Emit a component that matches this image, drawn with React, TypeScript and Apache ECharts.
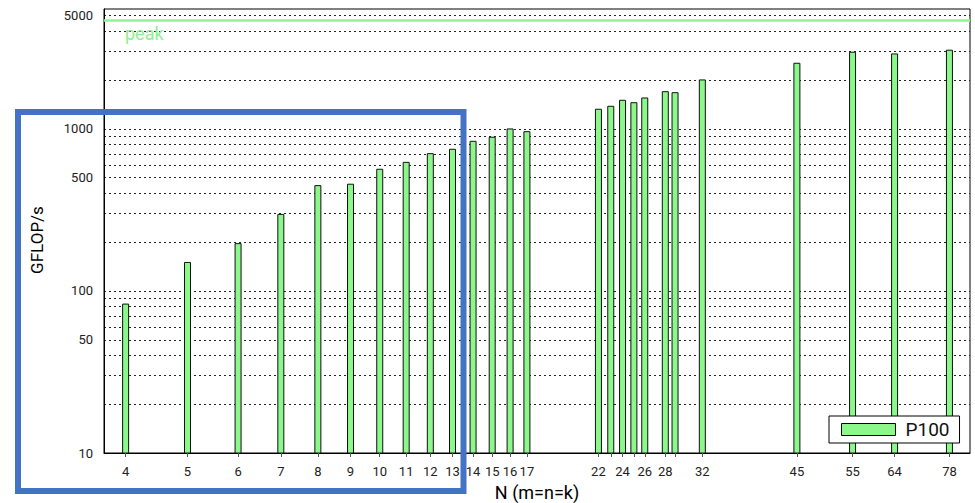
import React, { useEffect, useRef } from "react";
import * as echarts from "echarts";

// Matrix size N (m=n=k) and measured GFLOP/s on P100
const sizes = [4, 5, 6, 7, 8, 9, 10, 11, 12, 13, 14, 15, 16, 17, 22, 23, 24, 25, 26, 28, 29, 32, 45, 55, 64, 78];
const gflops = [83, 150, 196, 297, 447, 456, 564, 622, 704, 749, 839, 889, 1000, 962, 1323, 1380, 1503, 1452, 1553, 1699, 1674, 2007, 2544, 2975, 2904, 3062];
const xLabelValues = [4, 5, 6, 7, 8, 9, 10, 11, 12, 13, 14, 15, 16, 17, 22, 24, 26, 28, 32, 45, 55, 64, 78];
const yLabelValues = [10, 50, 100, 500, 1000, 5000];
const yGridValues = [10, 20, 30, 40, 50, 60, 70, 80, 90, 100, 200, 300, 400, 500, 600, 700, 800, 900, 1000, 2000, 3000, 4000, 5000];
const peakValue = 4700;
const seriesName = "P100";

const BAR_FILL = "#8cf88c";
const FONT = "Roboto, 'DejaVu Sans', sans-serif";

export default function App() {
  const ref = useRef<HTMLDivElement>(null);
  useEffect(() => {
    document.body.style.margin = "0";
    const chart = echarts.init(ref.current!, null, { renderer: "svg" });
    const data = sizes.map((n, i) => [n, gflops[i]]);
    chart.setOption({
      animation: false,
      backgroundColor: "#fff",
      textStyle: { fontFamily: FONT },
      grid: {
        left: 104,
        top: 9,
        right: 5,
        bottom: 50,
        outerBoundsMode: "none",
        containLabel: false,
        show: true,
        borderColor: "#000",
        borderWidth: 1,
        backgroundColor: "transparent",
      },
      legend: {
        left: 829,
        top: 416,
        orient: "horizontal",
        backgroundColor: "#fff",
        borderColor: "#000",
        borderWidth: 1,
        borderRadius: 0,
        padding: [4, 10, 4, 12],
        itemWidth: 54,
        itemHeight: 12,
        itemGap: 10,
        textStyle: { fontSize: 19, color: "#111", fontFamily: FONT, padding: [0, 0, 0, 5] },
        data: [
          {
            name: seriesName,
            icon: "rect",
            itemStyle: { color: BAR_FILL, borderColor: "#000", borderWidth: 1 },
          },
        ],
      },
      xAxis: {
        type: "log",
        logBase: 10,
        min: 3.7,
        max: 84,
        name: "N (m=n=k)",
        nameLocation: "middle",
        nameGap: 30,
        nameTextStyle: { fontSize: 18, color: "#000", fontFamily: FONT },
        axisLine: { show: true, lineStyle: { color: "#000", width: 1 } },
        axisTick: {
          show: true,
          inside: false,
          length: 4,
          customValues: sizes,
          lineStyle: { color: "#555" },
        },
        axisLabel: {
          customValues: xLabelValues,
          margin: 12,
          fontSize: 13,
          color: "#222",
          fontFamily: FONT,
          formatter: (v: number) => String(Math.round(v)),
        },
        splitLine: { show: false },
        minorTick: { show: false },
        minorSplitLine: { show: false },
      },
      yAxis: {
        type: "log",
        logBase: 10,
        min: 10,
        max: 5500,
        name: "GFLOP/s",
        nameLocation: "middle",
        nameGap: 59,
        nameRotate: 90,
        nameTextStyle: { fontSize: 17, color: "#000", fontFamily: FONT, padding: [0, 18, 0, 0] },
        axisLine: { show: true, lineStyle: { color: "#000", width: 1 } },
        axisTick: { show: false, customValues: yGridValues },
        axisLabel: {
          customValues: yLabelValues,
          margin: 11,
          fontSize: 13,
          color: "#222",
          fontFamily: FONT,
          formatter: (v: number) => String(Math.round(v)),
        },
        splitLine: {
          show: true,
          lineStyle: { color: "#222", width: 1, type: [2, 3] },
        },
      },
      series: [
        {
          name: seriesName,
          type: "custom",
          data,
          encode: { x: 0, y: 1 },
          clip: true,
          renderItem: (params: any, api: any) => {
            const x = api.value(0);
            const y = api.value(1);
            const top = api.coord([x, y]);
            const bot = api.coord([x, 10]);
            const w = 6;
            return {
              type: "rect",
              shape: { x: top[0] - w / 2, y: top[1], width: w, height: bot[1] - top[1] },
              style: { fill: BAR_FILL, stroke: "#111", lineWidth: 1 },
            };
          },
          itemStyle: { color: BAR_FILL },
          markLine: {
            silent: true,
            symbol: ["none", "none"],
            animation: false,
            lineStyle: { color: "#90f590", width: 2.5, type: "solid" },
            label: {
              show: true,
              position: "insideStartBottom",
              formatter: "peak",
              color: "#90f090",
              fontSize: 18,
              fontFamily: FONT,
              distance: [21, 4],
            },
            data: [{ yAxis: peakValue }],
          },
        },
      ],
      graphic: [
        {
          type: "rect",
          z: 100,
          silent: true,
          shape: { x: 18, y: 112, width: 445.5, height: 379 },
          style: { fill: "transparent", stroke: "#4472c4", lineWidth: 6 },
        },
      ],
    });
    return () => chart.dispose();
  }, []);
  return (
    <div
      ref={ref}
      style={{ position: "absolute", left: 0, top: 0, width: 975, height: 503 }}
    />
  );
}
